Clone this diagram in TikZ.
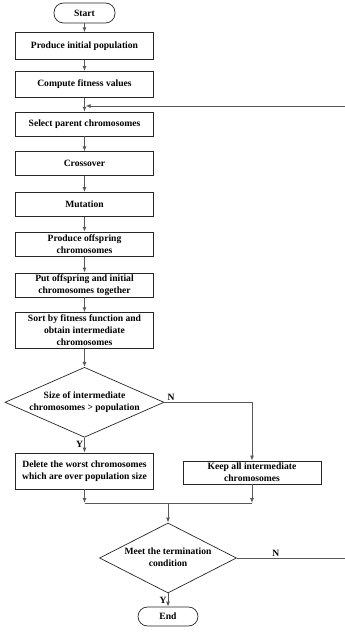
\documentclass[tikz,border=0pt]{standalone}
\usepackage{fontspec}
\setmainfont{Liberation Serif}
\usetikzlibrary{positioning}
\usetikzlibrary{shapes.geometric}
\usetikzlibrary{arrows.meta}
\tikzset{
	gastep/.style={draw=black!85, line width=0.7pt, minimum width=138pt, minimum height=24pt, inner sep=1pt, align=center},
	gaterm/.style={draw=black!85, line width=0.7pt, rounded corners=9.5pt, inner sep=1pt},
	gadecide/.style={diamond, draw=black!85, line width=0.7pt, inner sep=0pt},
	gaflow/.style={draw=black!65, line width=1pt, -{Latex[length=5pt,width=4pt]}},
	galine/.style={draw=black!65, line width=1pt},
	galabel/.style={inner sep=1pt, font=\fontsize{9.6}{12}\selectfont\bfseries}
}
\newcommand{\twoline}[2]{\makebox[0pt]{\begin{tabular}{@{}c@{}}#1\\#2\end{tabular}}}

\begin{document}
\begin{tikzpicture}[x=1pt, y=1pt, font=\fontsize{9.6}{12}\selectfont\bfseries]
	\useasboundingbox (0,0) rectangle (345,-632);
	\node [gaterm, minimum width=61pt, minimum height=20pt] at (84.5,-13) (start) {Start};
	\node [gastep, minimum height=27pt, below=9pt of start] (init) {Produce initial population};
	\node [gastep, minimum height=26pt, below=11pt of init] (fitness) {Compute fitness values};
	\node [gastep, below=14pt of fitness] (select) {Select parent chromosomes};
	\node [gastep, below=15pt of select] (cross) {Crossover};
	\node [gastep, below=16pt of cross] (mutate) {Mutation};
	\node [gastep, below=15pt of mutate] (offspring) {Produce offspring\\chromosomes};
	\node [gastep, below=16pt of offspring] (together) {Put offspring and initial\\chromosomes together};
	\node [gastep, minimum height=36pt, below=15pt of together] (sort) {Sort by fitness function and\\obtain intermediate\\chromosomes};
	\node [gadecide, minimum width=159pt, minimum height=70pt, below=18pt of sort] (sizecheck) {\twoline{Size of intermediate}{chromosomes > population}};
	\node [gastep, minimum height=36pt, below=15pt of sizecheck] (delete) {Delete the worst chromosomes\\which are over population size};
	\node [gastep, minimum height=23pt] at (252,-472.5) (keep) {Keep all intermediate\\chromosomes};
	\coordinate (join) at (168,-503);
	\node [gadecide, minimum width=137pt, minimum height=70pt] at (168,-558) (termcheck) {\twoline{Meet the termination}{condition}};
	\node [gaterm, minimum width=60pt, minimum height=19pt] at (168,-616.5) (finish) {End};
	\coordinate (loopin) at (345,-106);
	\coordinate (loopout) at (345,-558);

	\draw [gaflow] (start) -- (init); \draw [gaflow] (init) -- (fitness); \draw [gaflow] (fitness) -- (select);
	\draw [gaflow] (loopin) -- ([xshift=1pt]loopin -| select.north);
	\draw [gaflow] (select) -- (cross); \draw [gaflow] (cross) -- (mutate); \draw [gaflow] (mutate) -- (offspring);
	\draw [gaflow] (offspring) -- (together); \draw [gaflow] (together) -- (sort); \draw [gaflow] (sort) -- (sizecheck);
	\draw [gaflow] (sizecheck.south) -- node [galabel, left, pos=0.45] {Y} (delete.north);
	\draw [gaflow] (sizecheck.east) -- node [galabel, above right, pos=0.02] {N} (sizecheck.east -| keep.north) -- (keep.north);
	\draw [gaflow] (delete.south) -- (delete.south |- join);
	\draw [gaflow] (keep.south) -- (keep.south |- join);
	\draw [galine] (delete.south |- join) -- (keep.south |- join);
	\draw [gaflow] (join) -- (termcheck.north);
	\draw [galine] (termcheck.east) -- node [galabel, above, pos=0.36] {N} (loopout);
	\draw [gaflow] (termcheck.south) -- node [galabel, left, pos=0.5] {Y} (finish.north);
\end{tikzpicture}
\end{document}
